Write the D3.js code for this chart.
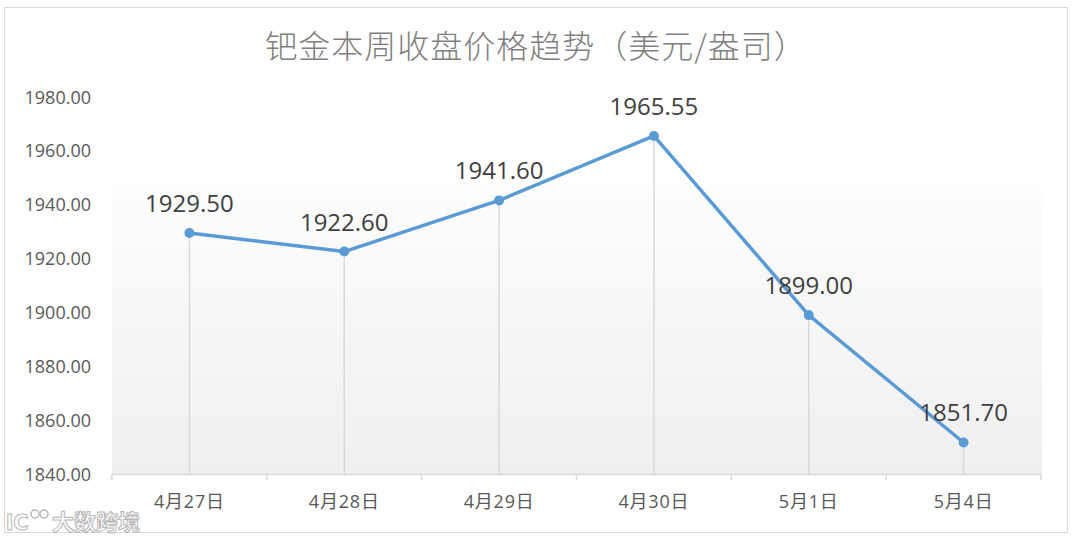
<!DOCTYPE html>
<html>
<head>
<meta charset="utf-8">
<script src="https://cdn.jsdelivr.net/npm/d3@7"></script>
<style>
  html, body { margin: 0; padding: 0; background: #fff; }
  svg { display: block; }
</style>
</head>
<body>
<svg id="chart" width="1075" height="541"></svg>
<script>
const categories = ["4月27日", "4月28日", "4月29日", "4月30日", "5月1日", "5月4日"];
const prices = [1929.50, 1922.60, 1941.60, 1965.55, 1899.00, 1851.70];
const yTicks = [1840, 1860, 1880, 1900, 1920, 1940, 1960, 1980];
const titleText = "钯金本周收盘价格趋势（美元/盎司）";
const watermarkText = "大数跨境";

(function () {
const svg = d3.select("#chart");
const pLeft = 112, pRight = 1041, pTop = 97, pBottom = 474;

// outer border
svg.append("rect").attr("x", 4.5).attr("y", 7.5).attr("width", 1063).attr("height", 525)
  .attr("fill", "#fff").attr("stroke", "#d9d9d9").attr("stroke-width", 1);

const x = d3.scaleBand().domain(categories).range([pLeft, pRight]).paddingInner(0).paddingOuter(0);
const y = d3.scaleLinear().domain([1840, 1980]).range([pBottom, pTop]);

// gradient background
const defs = svg.append("defs");
const grad = defs.append("linearGradient").attr("id", "bg").attr("x1", 0).attr("y1", 0).attr("x2", 0).attr("y2", 1);
grad.append("stop").attr("offset", "0%").attr("stop-color", "#fdfdfd");
grad.append("stop").attr("offset", "100%").attr("stop-color", "#efefef");
svg.append("rect").attr("x", pLeft).attr("y", 186).attr("width", pRight - pLeft + 1).attr("height", pBottom - 186)
  .attr("fill", "url(#bg)");

// title
svg.append("text").attr("x", 536).attr("y", 58).attr("text-anchor", "middle")
  .attr("font-family", "'Noto Sans CJK SC', sans-serif").attr("font-weight", 300)
  .attr("font-size", 32).attr("letter-spacing", 1).attr("fill", "#7f7f7f").text(titleText);

// y axis labels
const yAxis = d3.axisLeft(y).tickValues(yTicks).tickFormat(d3.format(".2f")).tickSize(0).tickPadding(0);
const yg = svg.append("g").attr("transform", "translate(91,0)").call(yAxis);
yg.select(".domain").remove();
yg.selectAll("text").attr("font-family", "'Open Sans', sans-serif").attr("font-size", 18)
  .attr("fill", "#595959").attr("dy", "0.34em");

// drop lines
const cx = d => x(d) + x.bandwidth() / 2;
svg.append("g").selectAll("line").data(prices).join("line")
  .attr("x1", (d, i) => cx(categories[i])).attr("x2", (d, i) => cx(categories[i]))
  .attr("y1", d => y(d)).attr("y2", pBottom)
  .attr("stroke", "#d9d9d9").attr("stroke-width", 1.5);

// x axis
const xAxis = d3.axisBottom(x).tickSize(0).tickPadding(0);
const xg = svg.append("g").attr("transform", `translate(0,${pBottom})`).call(xAxis);
xg.select(".domain").remove();
xg.selectAll(".tick text").attr("font-family", "'Open Sans', 'Noto Sans CJK SC', sans-serif")
  .attr("font-size", 18).attr("letter-spacing", 0.8).attr("fill", "#595959").attr("y", 34).attr("dy", 0);
xg.append("line").attr("x1", pLeft).attr("x2", pRight).attr("y1", 0.5).attr("y2", 0.5)
  .attr("stroke", "#d9d9d9").attr("stroke-width", 1.5);
const bounds = categories.map(c => x(c)).concat([pRight]);
xg.selectAll(".bound").data(bounds).join("line").attr("class", "bound")
  .attr("x1", d => d).attr("x2", d => d).attr("y1", 0).attr("y2", 6)
  .attr("stroke", "#d9d9d9").attr("stroke-width", 1.5);

// line
const line = d3.line().x((d, i) => cx(categories[i])).y(d => y(d));
svg.append("path").datum(prices).attr("d", line)
  .attr("fill", "none").attr("stroke", "#5b9bd5").attr("stroke-width", 3.5)
  .attr("stroke-linejoin", "round");

svg.append("g").selectAll("circle").data(prices).join("circle")
  .attr("cx", (d, i) => cx(categories[i])).attr("cy", d => y(d)).attr("r", 5)
  .attr("fill", "#5b9bd5");

// labels
svg.append("g").selectAll("text").data(prices).join("text")
  .attr("x", (d, i) => cx(categories[i])).attr("y", d => y(d) - 21)
  .attr("text-anchor", "middle").attr("font-family", "'Open Sans', sans-serif")
  .attr("font-size", 24).attr("fill", "#404040")
  .text(d => d3.format(".2f")(d));

// watermark
const wm = svg.append("g").attr("opacity", 0.9);
wm.append("text").attr("x", 6).attr("y", 530).attr("font-family", "'DejaVu Sans', sans-serif")
  .attr("font-size", 21).attr("font-weight", "bold").attr("fill", "#fff").attr("stroke", "#b0b0b0")
  .attr("stroke-width", 1).text("lC");
wm.append("circle").attr("cx", 35).attr("cy", 514).attr("r", 4).attr("fill", "none").attr("stroke", "#b0b0b0").attr("stroke-width", 1.5);
wm.append("circle").attr("cx", 44).attr("cy", 514).attr("r", 4).attr("fill", "none").attr("stroke", "#b0b0b0").attr("stroke-width", 1.5);
wm.append("text").attr("x", 52).attr("y", 530).attr("font-family", "'Noto Sans CJK SC', sans-serif")
  .attr("font-size", 22).attr("font-weight", "bold").attr("fill", "#fff").attr("stroke", "#b0b0b0")
  .attr("stroke-width", 1).text(watermarkText);
})();
</script>
</body>
</html>
